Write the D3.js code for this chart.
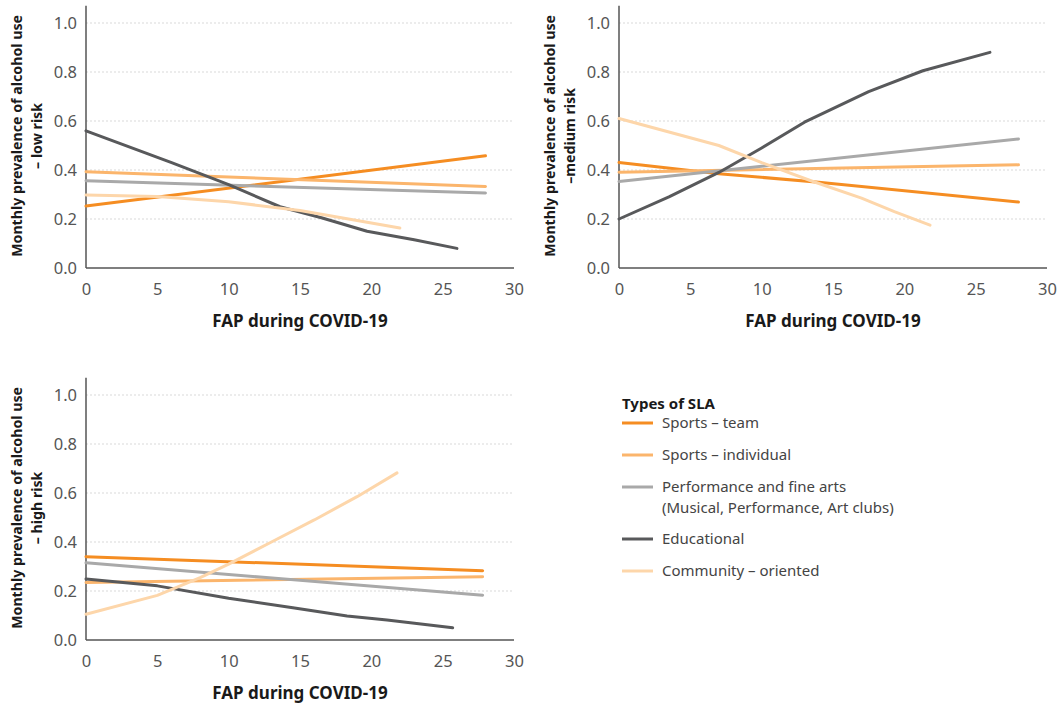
<!DOCTYPE html>
<html><head><meta charset="utf-8">
<script src="https://cdn.jsdelivr.net/npm/d3@7"></script>
<style>
html,body{margin:0;padding:0;background:#fff;}
svg{display:block;font-family:"Noto Sans",sans-serif;}
</style></head>
<body><svg id="c" width="1059" height="703"></svg>
<script>
// ---- data ----
const seriesNames = ["Sports – team","Sports – individual","Performance and fine arts","Educational","Community – oriented"];
const seriesColors = ["#f58d22","#fbb56c","#a9a9a9","#58595b","#fdd6aa"];
const xTicks = [0,5,10,15,20,25,30];
const yTicks = [0,0.2,0.4,0.6,0.8,1.0];
const xTitle = "FAP during COVID-19";
const yTitleLine1 = "Monthly prevalence of alcohol use";
const panelSubtitles = ["– low risk","–medium risk","– high risk"];

// low risk panel
const lowTeam = [[0,0.253],[28,0.458]];
const lowIndividual = [[0,0.393],[28,0.333]];
const lowPerformance = [[0,0.356],[28,0.306]];
const lowEducational = [[0,0.56],[6,0.43],[10,0.34],[13.6,0.25],[16.5,0.205],[19.7,0.15],[23,0.115],[26,0.08]];
const lowCommunity = [[0,0.298],[5,0.292],[10,0.27],[15,0.235],[22,0.163]];
// medium risk panel
const medTeam = [[0,0.431],[7,0.385],[14,0.35],[28,0.269]];
const medIndividual = [[0,0.391],[28,0.421]];
const medPerformance = [[0,0.353],[28,0.527]];
const medEducational = [[0,0.20],[3.5,0.29],[7,0.39],[10,0.49],[13,0.595],[17.5,0.72],[21.3,0.805],[26,0.88]];
const medCommunity = [[0,0.61],[7,0.50],[10,0.43],[13.5,0.355],[17,0.285],[19.3,0.23],[21.8,0.175]];
// high risk panel
const highTeam = [[0,0.34],[27.8,0.283]];
const highIndividual = [[0,0.235],[27.8,0.258]];
const highPerformance = [[0,0.315],[27.8,0.183]];
const highEducational = [[0,0.249],[5,0.221],[10,0.17],[14.5,0.132],[18.3,0.098],[21.1,0.082],[25.7,0.05]];
const highCommunity = [[0,0.105],[5,0.182],[8,0.255],[10,0.31],[13,0.40],[16,0.49],[19,0.585],[21.8,0.682]];

const legendLabels = ["Sports – team","Sports – individual","Performance and fine arts|(Musical, Performance, Art clubs)","Educational","Community – oriented"];

// ---- drawing ----
const svg = d3.select("#c");
const panels = [
  {x0:86, x1:514, y0:268, y1:23, lines:[lowTeam,lowIndividual,lowPerformance,lowEducational,lowCommunity], sub:panelSubtitles[0], tx:[22,42]},
  {x0:619, x1:1047, y0:268, y1:23, lines:[medTeam,medIndividual,medPerformance,medEducational,medCommunity], sub:panelSubtitles[1], tx:[555,575]},
  {x0:86, x1:514, y0:640, y1:395, lines:[highTeam,highIndividual,highPerformance,highEducational,highCommunity], sub:panelSubtitles[2], tx:[22,42]}
];

panels.forEach(p=>{
  const x = d3.scaleLinear().domain([0,30]).range([p.x0,p.x1]);
  const y = d3.scaleLinear().domain([0,1]).range([p.y0,p.y1]);
  const yTop = y(1.07);
  const g = svg.append("g");
  // grid
  g.selectAll(".grid").data(yTicks.filter(d=>d>0)).enter().append("line")
    .attr("x1",p.x0).attr("x2",p.x1).attr("y1",d=>y(d)).attr("y2",d=>y(d))
    .attr("stroke","#cfcfcf").attr("stroke-width",0.8).attr("stroke-dasharray","2,2");
  // y axis
  const ya = g.append("g").attr("transform",`translate(${p.x0},0)`)
    .call(d3.axisLeft(y).tickValues(yTicks).tickFormat(d3.format(".1f")).tickSize(0).tickPadding(9));
  ya.select(".domain").remove();
  g.append("line").attr("x1",p.x0).attr("x2",p.x0).attr("y1",yTop).attr("y2",p.y0)
    .attr("stroke","#555").attr("stroke-width",1.5);
  // x axis
  const xa = g.append("g").attr("transform",`translate(0,${p.y0})`)
    .call(d3.axisBottom(x).tickValues(xTicks).tickFormat(d3.format("d")).tickSize(0).tickPadding(15));
  xa.select(".domain").remove();
  g.append("line").attr("x1",p.x0).attr("x2",p.x1).attr("y1",p.y0).attr("y2",p.y0)
    .attr("stroke","#555").attr("stroke-width",1.5);
  g.selectAll(".tick text").attr("font-size",16.5).attr("fill","#555").attr("font-family","Noto Sans");
  // titles
  g.append("text").attr("x",(p.x0+p.x1)/2).attr("y",p.y0+59).attr("text-anchor","middle")
    .attr("font-size",17).attr("font-weight","bold").attr("fill","#1a1a1a").text(xTitle);
  const cy = (yTop+p.y0)/2 - 1;
  g.append("text").attr("transform",`translate(${p.tx[0]},${cy}) rotate(-90)`).attr("text-anchor","middle")
    .attr("font-size",14.2).attr("font-weight","bold").attr("fill","#1a1a1a").text(yTitleLine1);
  g.append("text").attr("transform",`translate(${p.tx[1]},${cy}) rotate(-90)`).attr("text-anchor","middle")
    .attr("font-size",14.2).attr("font-weight","bold").attr("fill","#1a1a1a").text(p.sub);
  // lines
  const line = d3.line().x(d=>x(d[0])).y(d=>y(d[1]));
  p.lines.forEach((pts,i)=>{
    g.append("path").attr("d",line(pts)).attr("fill","none")
      .attr("stroke",seriesColors[i]).attr("stroke-width",3).attr("stroke-linecap","round").attr("stroke-linejoin","round");
  });
});

// legend
const lg = svg.append("g");
lg.append("text").attr("x",622).attr("y",409).attr("font-size",15).attr("font-weight","bold").attr("fill","#1a1a1a").text("Types of SLA");
const legY = [423,455,487,539,571];
legendLabels.forEach((lab,i)=>{
  lg.append("line").attr("x1",622).attr("x2",653).attr("y1",legY[i]).attr("y2",legY[i])
    .attr("stroke",seriesColors[i]).attr("stroke-width",3);
  lab.split("|").forEach((t,j)=>{
    lg.append("text").attr("x",662).attr("y",legY[i]+5+j*21).attr("font-size",15).attr("fill","#444").text(t);
  });
});
</script></body></html>
